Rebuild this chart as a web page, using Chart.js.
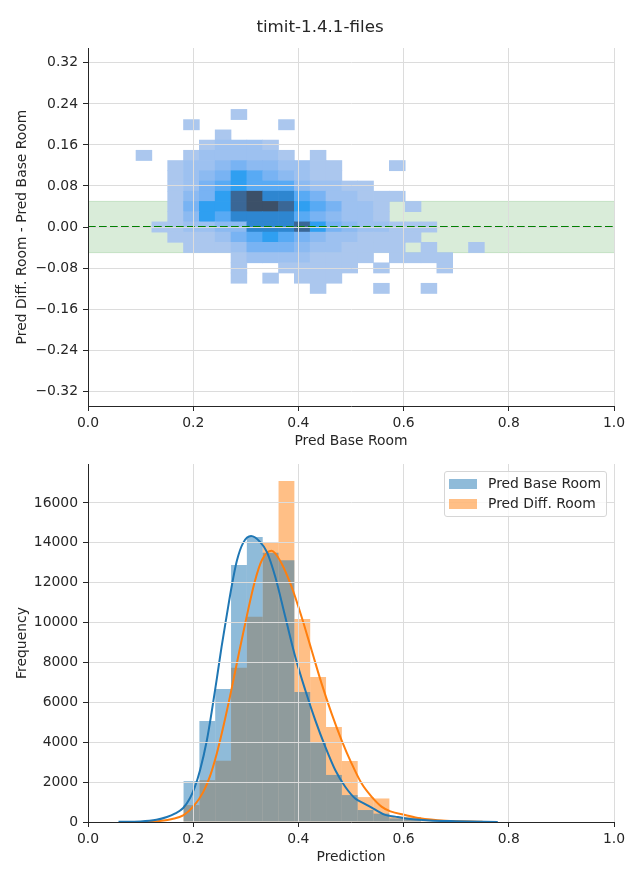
<!DOCTYPE html>
<html>
<head>
<meta charset="utf-8">
<script src="https://cdn.jsdelivr.net/npm/chart.js@4.4.1/dist/chart.umd.min.js"></script>
<style>
  body { margin: 0; background: #fff; }
  #wrap { position: relative; width: 640px; height: 880px; font-family: "DejaVu Sans", sans-serif; color: #262626; }
  #title { position: absolute; left: 0; top: 15px; width: 640px; text-align: center; font-size: 16.7px; line-height: 22px; }
  #topChart { position: absolute; left: 0; top: 0; }
  #bottomChart { position: absolute; left: 0; top: 440px; }
  #legend { position: absolute; left: 444px; top: 471px; width: 161px; padding: 1px 0 3px 0;
            border: 1px solid #d6d6d6; border-radius: 3px; background: rgba(255,255,255,0.8);
            font-size: 13.9px; }
  #legend .row { height: 20px; line-height: 20px; white-space: nowrap; }
  #legend .sw { display: inline-block; width: 28px; height: 10px; margin: 0 11px 0 4px; vertical-align: -1px; }
</style>
</head>
<body>
<div id="wrap">
  <canvas id="topChart" width="640" height="455"></canvas>
  <canvas id="bottomChart" width="640" height="440"></canvas>
  <div id="title">timit-1.4.1-files</div>
  <div id="legend"></div>
</div>
<script>
// ---- top panel: 2D histogram of (base pred, diff - base) ----
const heatXEdges = [0.0913, 0.1214, 0.1515, 0.1816, 0.2117, 0.2418, 0.2719, 0.3020, 0.3321, 0.3622, 0.3923,
                    0.4224, 0.4525, 0.4826, 0.5127, 0.5428, 0.5729, 0.6030, 0.6331, 0.6632, 0.6933, 0.7234, 0.7535];
const heatYEdges = [-0.1296, -0.1097, -0.0897, -0.0698, -0.0499, -0.0299, -0.0100, 0.0100, 0.0299, 0.0499,
                    0.0698, 0.0897, 0.1097, 0.1296, 0.1496, 0.1695, 0.1894, 0.2094, 0.2293];
// density level per cell (0 = empty), top row first, one char per x bin
const heatLevels = [
  "0000001000000000000000",
  "0001000001000000000000",
  "0000010000000000000000",
  "0000122210000000000000",
  "1001222221010000000000",
  "0012234332211000100000",
  "0012346543211000000000",
  "0012456555322110000000",
  "0013468977542211100000",
  "0014668998654221010000",
  "0013657777543221000000",
  "0112233777864322111000",
  "0011124565432211110000",
  "0001112444322111101001",
  "0000001222211110111100",
  "0000001001111101000100",
  "0000001010111000000000",
  "0000000000010001001000"
];
const heatPalette = ["#ffffff", "#abc7ee", "#9dc1f0", "#8cbaf1", "#78b3f3", "#58aaf4", "#2f9ff1", "#2e86d0", "#3a6796", "#3c5068"];
const bandLimits = [-0.05, 0.05];
const refLine = 0;
const xRange = [0, 1];
const topYRange = [-0.349, 0.349];
const xTicks = [0, 0.2, 0.4, 0.6, 0.8, 1.0];
const topYTicks = [-0.32, -0.24, -0.16, -0.08, 0, 0.08, 0.16, 0.24, 0.32];

// ---- bottom panel: histograms + KDE ----
const seriesNames = ["Pred Base Room", "Pred Diff. Room"];
const histCenters = [0.1967, 0.2268, 0.2569, 0.2870, 0.3171, 0.3472, 0.3773, 0.4074, 0.4375, 0.4676,
                     0.4977, 0.5278, 0.5579, 0.5880, 0.6181, 0.6482];
const histBase = [2050, 5060, 6670, 12890, 14300, 13500, 13130, 6520, 3960, 2360, 1350, 600, 420, 180, 150, 20];
const histDiff = [850, 2100, 3070, 7730, 10300, 13990, 17100, 10180, 7270, 4760, 3060, 1250, 1180, 270, 250, 40];
const kdeBaseX = [0.058, 0.10, 0.13, 0.15, 0.165, 0.181, 0.194, 0.203, 0.213, 0.226, 0.235, 0.245, 0.254, 0.264,
                  0.273, 0.283, 0.295, 0.310, 0.327, 0.340, 0.356, 0.375, 0.394, 0.413, 0.432, 0.451, 0.470,
                  0.489, 0.508, 0.527, 0.546, 0.565, 0.584, 0.602, 0.65, 0.70, 0.779];
const kdeBaseY = [10, 30, 110, 250, 420, 700, 1200, 1750, 2600, 4100, 5500, 7200, 8800, 10400,
                  11800, 13100, 14000, 14340, 14050, 13550, 12300, 10290, 8290, 6620, 5110, 3780, 2610,
                  1770, 1180, 900, 620, 360, 270, 190, 80, 40, 5];
const kdeDiffX = [0.11, 0.14, 0.16, 0.181, 0.200, 0.219, 0.232, 0.245, 0.257, 0.272, 0.286, 0.300, 0.317, 0.331,
                  0.349, 0.368, 0.387, 0.406, 0.425, 0.444, 0.463, 0.482, 0.501, 0.520, 0.539, 0.558, 0.575,
                  0.603, 0.631, 0.68, 0.75];
const kdeDiffY = [5, 60, 150, 330, 769, 1500, 2300, 3450, 4750, 6550, 8350, 10100, 12050, 13150,
                  13600, 12970, 11800, 10294, 8624, 6953, 5449, 4111, 2942, 1939, 1270, 769, 530,
                  351, 184, 60, 10];
const bottomYRange = [0, 17955];
const bottomYTicks = [0, 2000, 4000, 6000, 8000, 10000, 12000, 14000, 16000];

const baseColor = "#1f77b4", diffColor = "#ff7f0e";
const baseFill = "rgba(31,119,180,0.5)", diffFill = "rgba(255,127,14,0.5)";

Chart.defaults.font.family = '"DejaVu Sans", sans-serif';
Chart.defaults.font.size = 13.9;
Chart.defaults.color = "#262626";

const gridOpts = { color: "#dcdcdc", lineWidth: 1, tickColor: "#262626", tickLength: 5, z: 1, offset: false };
const borderOpts = { color: "#262626", width: 1, z: 2 };
const minus = s => s.replace("-", "\u2212");

// build heatmap cells from the level grid
const heatData = [];
heatLevels.forEach((row, t) => {
  const j = heatLevels.length - 1 - t;
  for (let c = 0; c < row.length; c++) {
    const lv = +row[c];
    if (!lv) continue;
    heatData.push({ x: (heatXEdges[c] + heatXEdges[c + 1]) / 2, y: [heatYEdges[j], heatYEdges[j + 1]], level: lv });
  }
});

new Chart(document.getElementById("topChart"), {
  type: "bar",
  data: {
    datasets: [
      { type: "line", data: xRange.map(x => ({ x, y: bandLimits[0] })), borderColor: "rgba(0,128,0,0.15)",
        borderWidth: 1, pointRadius: 0, fill: false, order: 3 },
      { type: "line", data: xRange.map(x => ({ x, y: bandLimits[1] })), borderColor: "rgba(0,128,0,0.15)",
        backgroundColor: "rgba(0,128,0,0.15)", borderWidth: 1, pointRadius: 0, fill: "-1", order: 3 },
      { type: "bar", data: heatData, backgroundColor: ctx => heatPalette[ctx.raw ? ctx.raw.level : 1],
        borderWidth: 0, categoryPercentage: 1, barPercentage: 1, order: 2 },
      { type: "line", data: xRange.map(x => ({ x, y: refLine })), borderColor: "#008000", borderWidth: 2,
        borderDash: [7.7, 3.3], pointRadius: 0, fill: false, order: 1 }
    ]
  },
  options: {
    responsive: false, animation: false, devicePixelRatio: 1,
    layout: { padding: { top: 48, right: 26, left: 0, bottom: 0 } },
    plugins: { legend: { display: false }, tooltip: { enabled: false } },
    scales: {
      x: {
        type: "linear", min: xRange[0], max: xRange[1], offset: false,
        afterBuildTicks: s => { s.ticks = xTicks.map(v => ({ value: v })); },
        afterFit: s => { s.height = 49; },
        grid: gridOpts, border: borderOpts,
        ticks: { padding: 4, maxRotation: 0, autoSkip: false, callback: v => v.toFixed(1) },
        title: { display: true, text: "Pred Base Room", padding: { top: 0, bottom: 5.7 } }
      },
      y: {
        min: topYRange[0], max: topYRange[1],
        afterBuildTicks: s => { s.ticks = topYTicks.map(v => ({ value: v })); },
        afterFit: s => { s.width = 88; },
        grid: gridOpts, border: borderOpts,
        ticks: { padding: 5, autoSkip: false, callback: v => minus(v.toFixed(2)) },
        title: { display: true, text: "Pred Diff. Room - Pred Base Room", padding: { top: 14, bottom: 0 } }
      }
    }
  }
});

new Chart(document.getElementById("bottomChart"), {
  type: "bar",
  data: {
    datasets: [
      { type: "line", data: kdeBaseX.map((x, i) => ({ x, y: kdeBaseY[i] })), borderColor: baseColor, borderWidth: 2,
        pointRadius: 0, fill: false, cubicInterpolationMode: "monotone", order: 0 },
      { type: "line", data: kdeDiffX.map((x, i) => ({ x, y: kdeDiffY[i] })), borderColor: diffColor, borderWidth: 2,
        pointRadius: 0, fill: false, cubicInterpolationMode: "monotone", order: 1 },
      { type: "bar", label: seriesNames[0], data: histCenters.map((x, i) => ({ x, y: histBase[i] })),
        backgroundColor: baseFill, borderWidth: 0, grouped: false, categoryPercentage: 1, barPercentage: 1,
        inflateAmount: 0, order: 2 },
      { type: "bar", label: seriesNames[1], data: histCenters.map((x, i) => ({ x, y: histDiff[i] })),
        backgroundColor: diffFill, borderWidth: 0, grouped: false, categoryPercentage: 1, barPercentage: 1,
        inflateAmount: 0, order: 3 }
    ]
  },
  options: {
    responsive: false, animation: false, devicePixelRatio: 1,
    layout: { padding: { top: 24, right: 26, left: 0, bottom: 0 } },
    plugins: { legend: { display: false }, tooltip: { enabled: false } },
    scales: {
      x: {
        type: "linear", min: xRange[0], max: xRange[1], offset: false,
        afterBuildTicks: s => { s.ticks = xTicks.map(v => ({ value: v })); },
        afterFit: s => { s.height = 58; },
        grid: gridOpts, border: borderOpts,
        ticks: { padding: 4, maxRotation: 0, autoSkip: false, callback: v => v.toFixed(1) },
        title: { display: true, text: "Prediction", padding: { top: 0, bottom: 14.7 } }
      },
      y: {
        min: bottomYRange[0], max: bottomYRange[1],
        afterBuildTicks: s => { s.ticks = bottomYTicks.map(v => ({ value: v })); },
        afterFit: s => { s.width = 88; },
        grid: gridOpts, border: borderOpts,
        ticks: { padding: 5, autoSkip: false, callback: v => String(v) },
        title: { display: true, text: "Frequency", padding: { top: 14, bottom: 0 } }
      }
    }
  }
});

// legend box like the matplotlib one
const legend = document.getElementById("legend");
[baseFill, diffFill].forEach((col, i) => {
  const row = document.createElement("div");
  row.className = "row";
  const sw = document.createElement("span");
  sw.className = "sw";
  sw.style.background = col;
  row.appendChild(sw);
  row.appendChild(document.createTextNode(seriesNames[i]));
  legend.appendChild(row);
});
</script>
</body>
</html>
